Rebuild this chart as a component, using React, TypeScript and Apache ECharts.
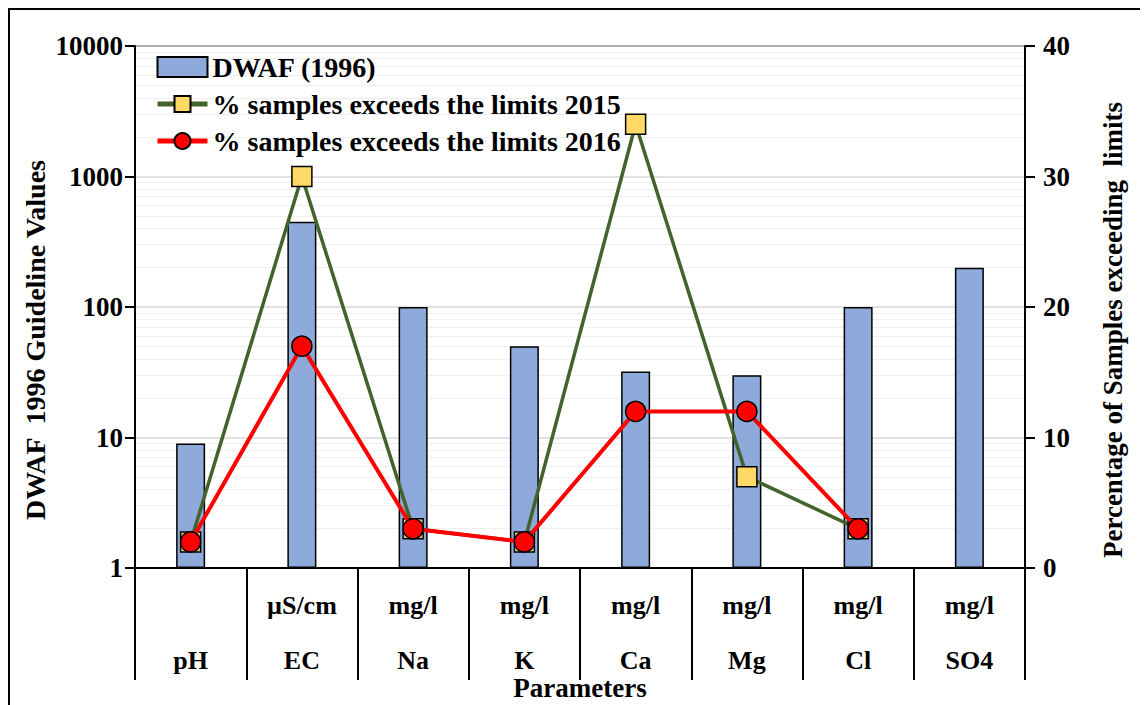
import React, { useEffect, useRef } from "react";
import * as echarts from "echarts";

const categories = ["pH", "EC", "Na", "K", "Ca", "Mg", "Cl", "SO4"];
const units = ["", "µS/cm", "mg/l", "mg/l", "mg/l", "mg/l", "mg/l", "mg/l"];
const dwaf1996 = [9, 450, 100, 50, 32, 30, 100, 200];
const exceed2015 = [2, 30, 3, 2, 34, 7, 3, null];
const exceed2016 = [2, 17, 3, 2, 12, 12, 3, null];
const leftTicks = [1, 10, 100, 1000, 10000];
const rightTicks = [0, 10, 20, 30, 40];

const FONT = "'Liberation Serif', 'Times New Roman', serif";
const GREEN = "#43632a";
const RED = "#ff0000";

export default function App() {
  const ref = useRef<HTMLDivElement>(null);

  useEffect(() => {
    if (!ref.current) return;
    const chart = echarts.init(ref.current, null, { renderer: "svg" });
    const txt = { fontFamily: FONT, fontWeight: "bold", color: "#000" };
    chart.setOption({
      animation: false,
      backgroundColor: "#fff",
      grid: {
        left: 127,
        right: 123,
        top: 38,
        bottom: 137,
        show: true,
        borderColor: "#000",
        borderWidth: 1.5,
      },
      legend: {
        left: 147,
        top: 45,
        padding: 0,
        orient: "vertical",
        itemWidth: 50,
        itemHeight: 20,
        itemGap: 9,
        textStyle: { ...txt, fontSize: 28, lineHeight: 28 },
        data: [
          { name: "DWAF (1996)", icon: "rect", itemStyle: { borderWidth: 2 } },
          {
            name: "% samples exceeds the limits 2015",
            lineStyle: { width: 5, color: GREEN },
          },
          {
            name: "% samples exceeds the limits 2016",
            lineStyle: { width: 5, color: RED },
          },
        ],
      },
      xAxis: {
        type: "category",
        data: categories,
        boundaryGap: true,
        axisLine: { lineStyle: { color: "#000", width: 2 } },
        axisTick: {
          show: true,
          length: 112,
          alignWithLabel: false,
          lineStyle: { color: "#000", width: 2 },
        },
        axisLabel: {
          interval: 0,
          margin: 10,
          formatter: (v: string, i: number) =>
            `{u|${units[i] || "\u00a0"}}\n{n|${v}}`,
          rich: {
            u: { ...txt, fontSize: 26, lineHeight: 54 },
            n: { ...txt, fontSize: 26, lineHeight: 56 },
          },
        },
        splitLine: { show: false },
      },
      yAxis: [
        {
          type: "log",
          logBase: 10,
          min: leftTicks[0],
          max: leftTicks[leftTicks.length - 1],
          axisLine: { show: true, lineStyle: { color: "#000", width: 2 } },
          axisTick: { show: true, length: 10, lineStyle: { color: "#000", width: 2 } },
          axisLabel: {
            ...txt,
            fontSize: 27,
            margin: 12,
            formatter: (v: number) => String(Math.round(v)),
          },
          splitLine: { show: true, lineStyle: { color: "#d9d9d9", width: 1.5 } },
          minorTick: { show: false, splitNumber: 9 },
          minorSplitLine: { show: true, lineStyle: { color: "#efefef", width: 1 } },
        },
        {
          type: "value",
          min: rightTicks[0],
          max: rightTicks[rightTicks.length - 1],
          interval: 10,
          axisLine: { show: true, lineStyle: { color: "#000", width: 2 } },
          axisTick: { show: true, length: 10, lineStyle: { color: "#000", width: 2 } },
          axisLabel: { ...txt, fontSize: 27, margin: 18 },
          splitLine: { show: false },
        },
      ],
      graphic: [
        {
          type: "text",
          x: 27,
          y: 332,
          rotation: Math.PI / 2,
          style: {
            text: "DWAF  1996 Guideline Values",
            ...txt,
            fill: "#000",
            fontSize: 28,
            textAlign: "center",
            textVerticalAlign: "middle",
          },
        },
        {
          type: "text",
          x: 1105,
          y: 322,
          rotation: Math.PI / 2,
          style: {
            text: "Percentage of Samples exceeding  limits",
            ...txt,
            fill: "#000",
            fontSize: 27,
            textAlign: "center",
            textVerticalAlign: "middle",
          },
        },
        {
          type: "text",
          x: 572,
          y: 680,
          style: {
            text: "Parameters",
            ...txt,
            fill: "#000",
            fontSize: 27,
            textAlign: "center",
            textVerticalAlign: "middle",
          },
        },
      ],
      series: [
        {
          name: "DWAF (1996)",
          type: "bar",
          yAxisIndex: 0,
          barWidth: 29,
          data: dwaf1996,
          itemStyle: { color: "#8eaadb", borderColor: "#000", borderWidth: 1.5 },
          z: 2,
        },
        {
          name: "% samples exceeds the limits 2015",
          type: "line",
          yAxisIndex: 1,
          data: exceed2015,
          symbol: "rect",
          symbolSize: 20,
          lineStyle: { color: GREEN, width: 3.5 },
          itemStyle: { color: "#ffd966", borderColor: "#000", borderWidth: 1.5 },
          z: 3,
        },
        {
          name: "% samples exceeds the limits 2016",
          type: "line",
          yAxisIndex: 1,
          data: exceed2016,
          symbol: "circle",
          symbolSize: 20,
          lineStyle: { color: RED, width: 4 },
          itemStyle: { color: RED, borderColor: "#000", borderWidth: 1.5 },
          z: 4,
        },
      ],
    });
    return () => chart.dispose();
  }, []);

  return (
    <div style={{ position: "relative", width: 1140, height: 697 }}>
      <div ref={ref} style={{ position: "absolute", left: 0, top: 0, width: 1140, height: 697 }} />
      <div
        style={{
          position: "absolute",
          left: 0,
          top: 0,
          width: 1140,
          height: 697,
          borderLeft: "2px solid #000",
          borderTop: "2px solid #000",
          boxSizing: "border-box",
          pointerEvents: "none",
        }}
      />
    </div>
  );
}
